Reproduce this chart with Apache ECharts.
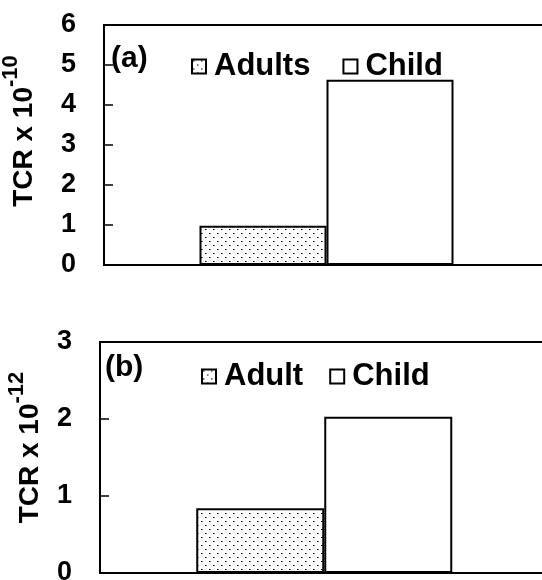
<!DOCTYPE html>
<html>
<head>
<meta charset="utf-8">
<script src="https://cdn.jsdelivr.net/npm/echarts@6/dist/echarts.min.js"></script>
<style>html,body{margin:0;padding:0;background:#fff;}#c{width:542px;height:580px;}</style>
</head>
<body>
<div id="c"></div>
<script>
// ---- data ----
const categories = ['TCR'];
const adultsA = [0.98];
const childA = [4.63];
const adultB = [0.84];
const childB = [2.03];
const yMaxA = 6;
const yMaxB = 3;
const nameA = ['Adults', 'Child'];
const nameB = ['Adult', 'Child'];
const panelLabels = ['(a)', '(b)'];
const yExpA = '-10';
const yExpB = '-12';

// ---- styles ----
const FONT = '"Liberation Sans", Arial, sans-serif';
const tile = document.createElement('canvas');
tile.width = 8; tile.height = 8;
const tctx = tile.getContext('2d');
tctx.fillStyle = '#fff'; tctx.fillRect(0, 0, 8, 8);
tctx.fillStyle = '#000';
tctx.fillRect(1, 1, 1, 1);
tctx.fillRect(5, 5, 1, 1);
tctx.fillStyle = '#777';
tctx.fillRect(2, 1, 1, 1);
tctx.fillRect(6, 5, 1, 1);
const dotted = { image: tile, repeat: 'repeat' };

function yAxis(gi, max, exp, gap, shift) {
  return {
    type: 'value', gridIndex: gi, min: 0, max: max, interval: 1,
    axisLine: { show: true, lineStyle: { color: '#000', width: 2 } },
    axisTick: { show: true, inside: true, length: 9, lineStyle: { color: '#000', width: 1.5 } },
    splitLine: { show: false },
    axisLabel: { color: '#000', fontSize: 27, fontWeight: 'bold', fontFamily: FONT, margin: 28 },
    name: '{m|TCR x 10}{s|' + exp + '}',
    nameLocation: 'middle', nameGap: gap,
    nameTextStyle: {
      color: '#000', fontFamily: FONT, fontWeight: 'bold',
      padding: [0, 0, 0, shift],
      rich: {
        m: { fontSize: 28, fontWeight: 'bold', fontFamily: FONT, color: '#000', lineHeight: 38, verticalAlign: 'bottom' },
        s: { fontSize: 22, fontWeight: 'bold', fontFamily: FONT, color: '#000', lineHeight: 38, verticalAlign: 'top' }
      }
    }
  };
}
function xAxis(gi) {
  return {
    type: 'category', gridIndex: gi, data: categories, max: 1,
    axisLine: { show: true, lineStyle: { color: '#000', width: 2 } },
    axisTick: { show: false }, axisLabel: { show: false }, splitLine: { show: false }
  };
}
function bar(name, gi, data, color, w) {
  return {
    type: 'bar', name: name, xAxisIndex: gi, yAxisIndex: gi, data: data,
    barWidth: w, barGap: '0%',
    itemStyle: { color: color, borderColor: '#000', borderWidth: 2 },
    emphasis: { disabled: true }, animation: false
  };
}
function legend(names, left, top, gap) {
  return {
    data: names, left: left, top: top, icon: 'rect', itemWidth: 14, itemHeight: 14, itemGap: gap,
    textStyle: { color: '#000', fontSize: 31, fontWeight: 'bold', fontFamily: FONT, padding: [0, 0, 0, 3] },
    selectedMode: false
  };
}

const chart = echarts.init(document.getElementById('c'), null, { renderer: 'canvas' });
chart.setOption({
  animation: false,
  backgroundColor: '#fff',
  title: [
    { text: panelLabels[0], left: 111, top: 44, padding: 0, textStyle: { color: '#000', fontSize: 30, fontWeight: 'bold', fontFamily: FONT } },
    { text: panelLabels[1], left: 105, top: 353, padding: 0, textStyle: { color: '#000', fontSize: 30, fontWeight: 'bold', fontFamily: FONT } }
  ],
  legend: [legend(nameA, 186, 46, 32), legend(nameB, 196, 356, 26)],
  grid: [
    { left: 104, top: 25, height: 240, width: 890, outerBoundsMode: 'none', containLabel: false, show: true, borderColor: '#000', borderWidth: 2, backgroundColor: 'transparent' },
    { left: 100, top: 342, height: 231, width: 897, outerBoundsMode: 'none', containLabel: false, show: true, borderColor: '#000', borderWidth: 2, backgroundColor: 'transparent' }
  ],
  xAxis: [xAxis(0), xAxis(1)],
  yAxis: [yAxis(0, yMaxA, yExpA, 66, 28), yAxis(1, yMaxB, yExpB, 56, 20)],
  series: [
    bar(nameA[0], 0, adultsA, dotted, 127),
    bar(nameA[1], 0, childA, '#fff', 127),
    bar(nameB[0], 1, adultB, dotted, 128),
    bar(nameB[1], 1, childB, '#fff', 128)
  ]
});
</script>
</body>
</html>
